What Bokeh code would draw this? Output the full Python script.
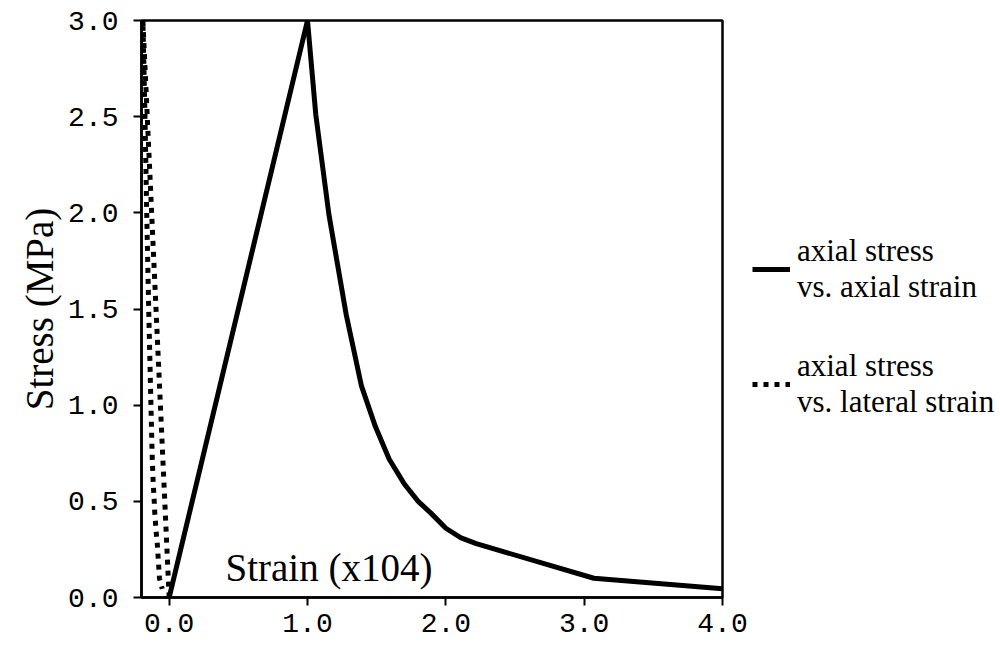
from bokeh.plotting import figure
from bokeh.models import Range1d, FixedTicker, Legend, LegendItem, Label
from bokeh.embed import file_html
from bokeh.resources import INLINE

# ---- data ----
axial_strain = [0.0, 1.0, 1.06, 1.155, 1.28, 1.39, 1.49, 1.59, 1.70, 1.80, 1.89, 2.0, 2.11, 2.22, 3.07, 4.0]
axial_stress = [0.0, 3.0, 2.51, 1.99, 1.47, 1.10, 0.89, 0.72, 0.59, 0.50, 0.44, 0.36, 0.31, 0.28, 0.10, 0.045]

lateral_strain = [0.0, -0.19, -0.175, -0.162, -0.147, -0.135, -0.128, -0.122, -0.115, -0.108, -0.104, -0.096, -0.09, -0.086, -0.07, -0.05]
lateral_stress = [0.0, 3.0, 2.51, 1.99, 1.47, 1.10, 0.89, 0.72, 0.59, 0.50, 0.44, 0.36, 0.31, 0.28, 0.10, 0.045]

x_ticks = [0, 1, 2, 3, 4]
x_tick_labels = ["0.0", "1.0", "2.0", "3.0", "4.0"]
y_ticks = [0.0, 0.5, 1.0, 1.5, 2.0, 2.5, 3.0]
y_tick_labels = ["0.0", "0.5", "1.0", "1.5", "2.0", "2.5", "3.0"]

x_title = "Strain (x104)"
y_title = "Stress (MPa)"
legend_labels = ["axial stress\nvs. axial strain", "axial stress\nvs. lateral strain"]

SERIF = "Liberation Serif"
MONO = "Liberation Mono"

p = figure(frame_width=581, frame_height=577, output_backend="svg", toolbar_location=None,
           x_range=Range1d(-0.2, 4.0), y_range=Range1d(0.0, 3.0),
           min_border_left=141, min_border_right=0, min_border_top=20, min_border_bottom=48)

p.xgrid.visible = False
p.ygrid.visible = False
p.outline_line_color = "black"
p.outline_line_width = 2.5
p.outline_line_alpha = 1.0
p.background_fill_color = "white"
p.border_fill_color = "white"

for ax, ticks, labels in ((p.xaxis[0], x_ticks, x_tick_labels), (p.yaxis[0], y_ticks, y_tick_labels)):
    ax.ticker = FixedTicker(ticks=ticks)
    ax.major_label_overrides = {t: l for t, l in zip(ticks, labels)}
    ax.axis_line_color = "black"
    ax.axis_line_width = 2.5
    ax.major_tick_line_color = "black"
    ax.major_tick_line_width = 2
    ax.major_tick_in = 0
    ax.major_tick_out = 8
    ax.minor_tick_line_color = None
    ax.major_label_text_font = MONO
    ax.major_label_text_font_size = "28px"
    ax.major_label_text_color = "black"

p.xaxis.major_label_standoff = 8
p.yaxis.major_label_standoff = 15
p.yaxis.axis_label = y_title
p.yaxis.axis_label_text_font = SERIF
p.yaxis.axis_label_text_font_size = "39px"
p.yaxis.axis_label_text_font_style = "normal"
p.yaxis.axis_label_text_color = "black"
p.yaxis.axis_label_standoff = 4

solid = p.line(axial_strain, axial_stress, line_color="black", line_width=5)
dotted = p.line(lateral_strain, lateral_stress, line_color="black", line_width=5, line_dash="5 6")

p.add_layout(Label(x=84, y=30, x_units="screen", y_units="screen", text=x_title,
                   text_font=SERIF, text_font_size="39px", text_color="black",
                   text_baseline="alphabetic"))

legend = Legend(items=[LegendItem(label=legend_labels[0], renderers=[solid]),
                       LegendItem(label=legend_labels[1], renderers=[dotted])],
                location=(30, 177), orientation="vertical",
                border_line_alpha=0, background_fill_alpha=0,
                padding=0, margin=0, spacing=43,
                glyph_width=38, glyph_height=20, label_standoff=7,
                label_text_font=SERIF, label_text_font_size="31px",
                label_text_color="black")
p.add_layout(legend, "right")

open("out.html", "w").write(file_html(p, INLINE))
